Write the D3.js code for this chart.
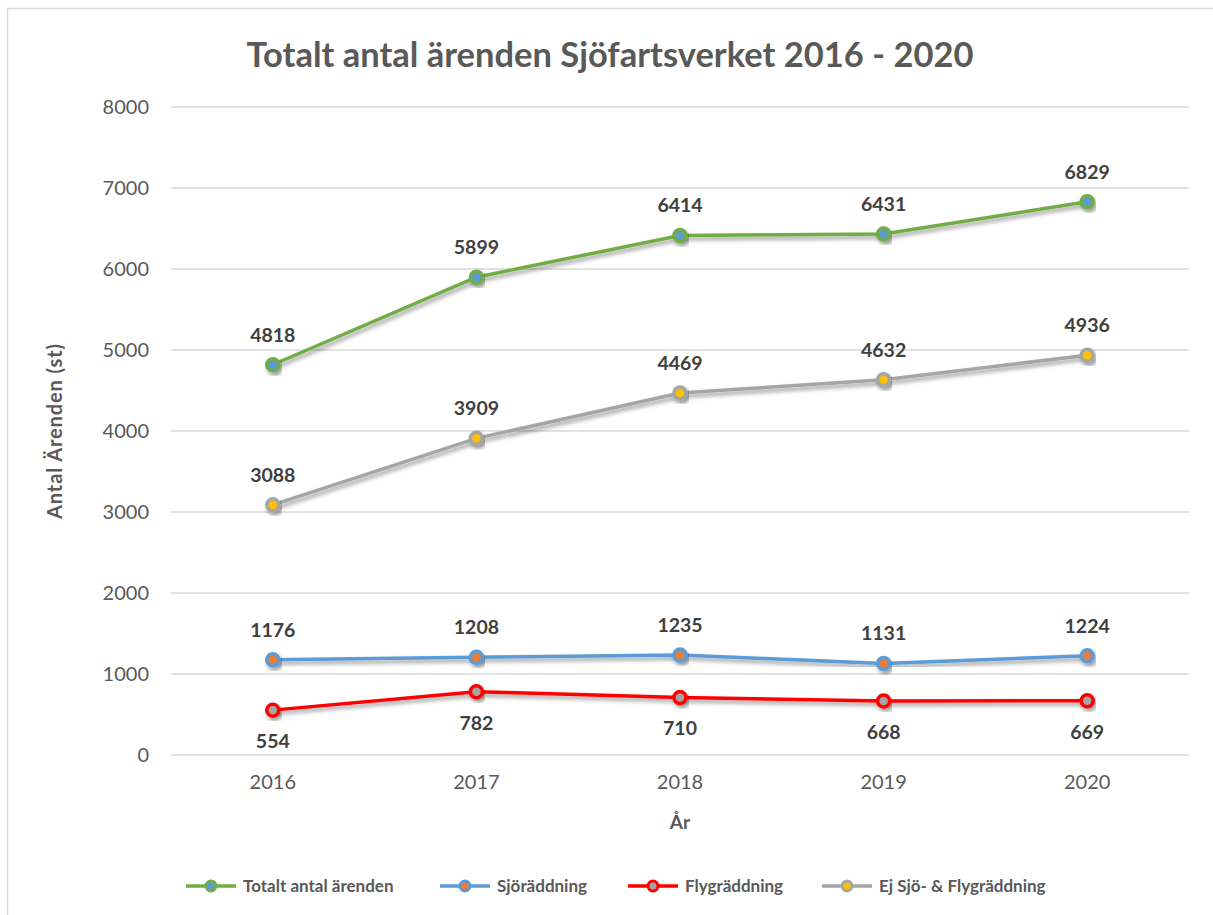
<!DOCTYPE html>
<html><head><meta charset="utf-8">
<script src="https://cdn.jsdelivr.net/npm/d3@7"></script>
<style>body{margin:0;background:#fff;} text{font-family:Lato,"Open Sans",sans-serif;}</style>
</head><body>
<svg id="c" width="1213" height="915"></svg>
<script>
const years = ["2016","2017","2018","2019","2020"];
const totalt = [4818,5899,6414,6431,6829];
const sjo = [1176,1208,1235,1131,1224];
const fly = [554,782,710,668,669];
const ej = [3088,3909,4469,4632,4936];
const yTicks = [0,1000,2000,3000,4000,5000,6000,7000,8000];

const series = [
  {name:"Totalt antal ärenden", values: totalt, line:"#70AD47", fill:"#5B9BD5", pos:"above"},
  {name:"Sjöräddning", values: sjo, line:"#5B9BD5", fill:"#ED7D31", pos:"above"},
  {name:"Flygräddning", values: fly, line:"#FF0000", fill:"#A5A5A5", pos:"below"},
  {name:"Ej Sjö- & Flygräddning", values: ej, line:"#A5A5A5", fill:"#FFC000", pos:"above"}
];

const svg = d3.select("#c");
const defs = svg.append("defs");
const f = defs.append("filter").attr("id","sh").attr("x","-20%").attr("y","-20%").attr("width","140%").attr("height","160%");
f.append("feDropShadow").attr("dx",2).attr("dy",3).attr("stdDeviation",2).attr("flood-color","#000").attr("flood-opacity",0.4);

// border
svg.append("rect").attr("x",7.5).attr("y",8.5).attr("width",1300).attr("height",1000)
  .attr("fill","none").attr("stroke","#D9D9D9").attr("stroke-width",1.5);

const x = d3.scaleBand().domain(years).range([171,1189]);
const y = d3.scaleLinear().domain([0,8000]).range([755,107]);

// gridlines
svg.append("g").selectAll("line").data(yTicks).join("line")
  .attr("x1",171).attr("x2",1189).attr("y1",d=>y(d)).attr("y2",d=>y(d))
  .attr("stroke","#D9D9D9").attr("stroke-width",1.5);

// y axis
const ya = svg.append("g").attr("transform","translate(171,0)")
  .call(d3.axisLeft(y).tickValues(yTicks).tickFormat(d3.format("d")).tickSize(0).tickPadding(22));
ya.select(".domain").remove();
ya.selectAll("text").attr("font-size",20).attr("fill","#595959").style("font-family","Lato,'Open Sans',sans-serif");

// x axis
const xa = svg.append("g").attr("transform","translate(0,755)")
  .call(d3.axisBottom(x).tickSize(0).tickPadding(20));
xa.select(".domain").remove();
xa.selectAll("text").attr("font-size",20).attr("fill","#595959").style("font-family","Lato,'Open Sans',sans-serif");

// titles
svg.append("text").attr("x",610).attr("y",67).attr("text-anchor","middle")
  .attr("font-size",34.5).attr("font-weight","bold").attr("fill","#595959")
  .text("Totalt antal ärenden Sjöfartsverket 2016 - 2020");
svg.append("text").attr("x",680).attr("y",829).attr("text-anchor","middle")
  .attr("font-size",19).attr("font-weight","bold").attr("fill","#595959").text("År");
svg.append("text").attr("transform","translate(62,431) rotate(-90)").attr("text-anchor","middle")
  .attr("font-size",20).attr("letter-spacing",0.9).attr("font-weight","bold").attr("fill","#595959").text("Antal Ärenden (st)");

const cx = d => x(d) + x.bandwidth()/2;
const line = d3.line().x(d=>cx(d[0])).y(d=>y(d[1]));

series.forEach(s=>{
  const pts = years.map((yr,i)=>[yr, s.values[i]]);
  const g = svg.append("g");
  g.append("path").datum(pts).attr("d",line).attr("fill","none")
    .attr("stroke",s.line).attr("stroke-width",3.5).attr("filter","url(#sh)");
  g.selectAll("circle").data(pts).join("circle")
    .attr("cx",d=>cx(d[0])).attr("cy",d=>y(d[1])).attr("r",6)
    .attr("fill",s.fill).attr("stroke",s.line).attr("stroke-width",3.5).attr("filter","url(#sh)");
  svg.append("g").selectAll("text").data(pts).join("text")
    .attr("x",d=>cx(d[0])).attr("y",d=>y(d[1]) + (s.pos==="above" ? -23 : 38))
    .attr("text-anchor","middle").attr("font-size",19.5).attr("font-weight","bold").attr("fill","#404040")
    .text(d=>d[1]);
});

// legend
const legX = [186,440,628,822];
const lg = svg.append("g");
series.forEach((s,i)=>{
  const gx = legX[i], gy = 886;
  lg.append("line").attr("x1",gx).attr("x2",gx+50).attr("y1",gy).attr("y2",gy)
    .attr("stroke",s.line).attr("stroke-width",3.5);
  lg.append("circle").attr("cx",gx+25).attr("cy",gy).attr("r",5)
    .attr("fill",s.fill).attr("stroke",s.line).attr("stroke-width",3);
  lg.append("text").attr("x",gx+57).attr("y",gy+6).attr("font-size",17).attr("font-weight","bold")
    .attr("fill","#595959").text(s.name);
});
</script>
</body></html>
